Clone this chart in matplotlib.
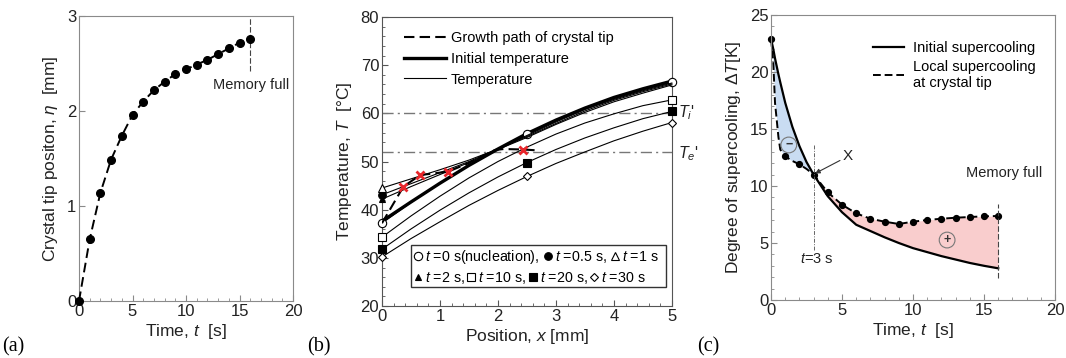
import numpy as np
import matplotlib.pyplot as plt
from matplotlib.ticker import MultipleLocator
from matplotlib.patches import Rectangle
from matplotlib.lines import Line2D

plt.rcParams['font.family'] = ['Liberation Sans', 'DejaVu Sans']
plt.rcParams['mathtext.fontset'] = 'custom'
plt.rcParams['mathtext.it'] = 'Liberation Sans:italic'
plt.rcParams['mathtext.rm'] = 'Liberation Sans'
plt.rcParams['font.size'] = 10.5

# ---- (a) crystal tip position
t_a = [0, 1, 2, 3, 4, 5, 6, 7, 8, 9, 10, 11, 12, 13, 14, 15, 16]
eta = [0, 0.65, 1.14, 1.49, 1.74, 1.96, 2.10, 2.22, 2.31, 2.39, 2.44,
       2.49, 2.54, 2.60, 2.66, 2.72, 2.76]

# ---- (b) temperature profiles
x_b = [0, 0.5, 1, 1.5, 2, 2.5, 3, 3.5, 4, 4.5, 5]
T_init = [37.6, 41.6, 45.5, 49.2, 52.6, 55.8, 58.6, 61.1, 63.3, 65.1, 66.7]
T_t0 = [37.2, 41.5, 45.5, 49.2, 52.6, 55.7, 58.5, 61.0, 63.1, 64.9, 66.5]
T_t05 = [43.1, 45.4, 47.7, 50.0, 52.6, 55.4, 58.2, 60.8, 62.9, 64.7, 66.3]
T_t1 = [44.5, 46.4, 48.3, 50.3, 52.6, 55.2, 57.9, 60.5, 62.7, 64.5, 66.1]
T_t2 = [42.2, 44.8, 47.3, 49.8, 52.5, 55.0, 57.7, 60.2, 62.4, 64.2, 65.9]
T_t10 = [34.3, 38.7, 42.8, 46.6, 50.0, 53.0, 55.7, 58.0, 59.9, 61.6, 62.8]
T_t20 = [31.8, 36.0, 39.9, 43.5, 46.8, 49.8, 52.5, 54.9, 57.0, 58.9, 60.4]
T_t30 = [30.2, 34.0, 37.5, 40.9, 44.0, 46.9, 49.6, 52.0, 54.3, 56.3, 58.1]
tip_x = [0, 0.37, 0.66, 1.14, 1.48, 1.74, 1.95, 2.10, 2.44, 2.70]
tip_T = [37.2, 44.8, 47.2, 47.9, 49.6, 51.2, 52.4, 52.6, 52.5, 52.3]
cross_x = [0.37, 0.66, 1.14, 2.44]
cross_T = [44.8, 47.2, 47.9, 52.5]
T_i = 60
T_e = 52

# ---- (c) degree of supercooling
t_c = [0, 0.16, 0.28, 0.52, 0.65, 1, 1.5, 2, 2.5, 3, 4, 5, 6, 7, 8, 9,
       10, 11, 12, 13, 14, 15, 16]
dT_init = [22.9, 22.0, 21.2, 19.8, 19.1, 17.3, 15.2, 13.5, 12.1, 11.0,
           9.1, 7.7, 6.6, 6.05, 5.5, 5.0, 4.55, 4.2, 3.85, 3.55, 3.25,
           3.0, 2.78]
dT_local = [22.9, 20.8, 17.3, 14.3, 13.2, 12.6, 12.2, 11.9, 11.5, 11.0,
            9.44, 8.36, 7.6, 7.13, 6.87, 6.67, 6.87, 7.02, 7.13, 7.22,
            7.28, 7.34, 7.37]
dot_idx = [0, 5, 7] + list(range(9, 23))

spine_c = '#8a8a8a'
txt_c = '#222222'
TICK_FS = 12
LAB_FS = 12.5

fig = plt.figure(figsize=(10.66, 3.58), dpi=100)
ax1 = fig.add_axes([0.0741, 0.159, 0.2008, 0.796])
ax2 = fig.add_axes([0.3583, 0.145, 0.2720, 0.8075])
ax3 = fig.add_axes([0.7233, 0.162, 0.2664, 0.796])


def style(ax, col):
    for s in ax.spines.values():
        s.set_color(col)
    ax.tick_params(which='both', direction='in', colors=col, labelcolor=txt_c,
                   top=False, right=False, labelsize=TICK_FS, pad=2)
    ax.tick_params(which='major', length=4)
    ax.tick_params(which='minor', length=2)


# (a)
ax1.plot(t_a, eta, color='k', ls=(0, (5, 2.5)), lw=1.4, marker='o', ms=5.5,
         clip_on=False, zorder=3)
ax1.plot([16, 16], [2.42, 2.98], color='#444', ls=(0, (5, 2)), lw=0.8)
ax1.text(16.1, 2.27, 'Memory full', ha='center', va='center', fontsize=10.5,
         color=txt_c)
ax1.set_xlim(0, 20)
ax1.set_ylim(0, 3)
ax1.xaxis.set_major_locator(MultipleLocator(5))
ax1.xaxis.set_minor_locator(MultipleLocator(1))
ax1.yaxis.set_major_locator(MultipleLocator(1))
ax1.set_xlabel('Time, $t$  [s]', color=txt_c, labelpad=2, fontsize=LAB_FS)
ax1.set_ylabel('Crystal tip positon, $\\eta$  [mm]', color=txt_c,
               labelpad=5, fontsize=LAB_FS)
style(ax1, spine_c)

# (b)
ax2.axhline(T_i, color='#777', ls='-.', lw=1.0, dashes=(8, 3, 1.5, 3))
ax2.axhline(T_e, color='#777', ls='-.', lw=1.0, dashes=(8, 3, 1.5, 3))
ax2.plot(x_b, T_init, color='k', lw=2.4, zorder=4)
curves = [
    (T_t0, 'o', 'white', [0, 5, 10], 6),
    (T_t05, 'o', 'k', [0], 5.5),
    (T_t1, '^', 'white', [0], 5.5),
    (T_t2, '^', 'k', [0], 4),
    (T_t10, 's', 'white', [0, 10], 6),
    (T_t20, 's', 'k', [0, 5, 10], 6),
    (T_t30, 'D', 'white', [0, 5, 10], 4.5),
]
for vals, mk, fc, idx, ms in curves:
    ax2.plot(x_b, vals, color='k', lw=0.8, marker=mk, mfc=fc, mec='k',
             mew=0.8, ms=ms, markevery=idx, clip_on=False, zorder=5)
ax2.plot(tip_x, tip_T, color='k', lw=1.5, ls=(0, (5, 2.5)), zorder=6)
ax2.plot(cross_x, cross_T, ls='none', marker='x', color='#e8262b', ms=6,
         mew=2, zorder=7)
ax2.text(5.1, T_i + 0.2, "$T_i$'", ha='left', va='center', fontsize=11.5,
         color=txt_c)
ax2.text(5.1, T_e - 0.4, "$T_e$'", ha='left', va='center', fontsize=11.5,
         color=txt_c)
top_handles = [Line2D([], [], color='k', lw=1.5, ls=(0, (5, 2.5))),
               Line2D([], [], color='k', lw=2.4),
               Line2D([], [], color='k', lw=0.8)]
top_labels = ['Growth path of crystal tip', 'Initial temperature',
              'Temperature']
leg = ax2.legend(top_handles, top_labels, loc='upper left',
                 bbox_to_anchor=(0.075, 0.95), frameon=False,
                 handlelength=2.9, handletextpad=0.35, labelspacing=0.45,
                 borderpad=0, borderaxespad=0)
ax2.add_artist(leg)

mk_handles = []
for vals, mk, fc, idx, ms in curves:
    mk_handles.append(Line2D([], [], ls='none', marker=mk, mfc=fc,
                             mec='k', mew=0.8, ms=ms))
row1 = ['$t$ =0 s(nucleation),', '$t$ =0.5 s,', '$t$ =1 s']
row2 = ['$t$ =2 s,', '$t$ =10 s,', '$t$ =20 s,', '$t$ =30 s']
leg1 = ax2.legend(mk_handles[:3], row1, ncol=3, loc='center left',
                  bbox_to_anchor=(0.108, 0.171), frameon=False, fontsize=10.3,
                  handlelength=0.6, handletextpad=0.2, columnspacing=0.3,
                  borderpad=0, borderaxespad=0)
ax2.add_artist(leg1)
ax2.legend(mk_handles[3:], row2, ncol=4, loc='center left',
           bbox_to_anchor=(0.108, 0.096), frameon=False, fontsize=10.3,
           handlelength=0.6, handletextpad=0.2, columnspacing=0.15,
           borderpad=0, borderaxespad=0)
ax2.add_patch(Rectangle((0.10, 0.066), 0.88, 0.145, transform=ax2.transAxes,
                        fill=False, ec='#333', lw=1.0, zorder=8))
ax2.set_xlim(0, 5)
ax2.set_ylim(20, 80)
ax2.xaxis.set_major_locator(MultipleLocator(1))
ax2.xaxis.set_minor_locator(MultipleLocator(0.2))
ax2.yaxis.set_major_locator(MultipleLocator(10))
ax2.yaxis.set_minor_locator(MultipleLocator(2))
ax2.set_xlabel('Position, $x$ [mm]', color=txt_c, labelpad=2, fontsize=LAB_FS)
ax2.set_ylabel('Temperature, $T$  [°C]', color=txt_c, labelpad=5,
               fontsize=LAB_FS)
style(ax2, '#555555')

# (c)
t_arr = np.array(t_c)
ax3.fill_between(t_c, dT_local, dT_init, where=t_arr <= 3,
                 color='#c9dcf2', lw=0)
ax3.fill_between(t_c, dT_local, dT_init, where=t_arr >= 3,
                 color='#f9cdcd', lw=0)
ax3.plot(t_c, dT_init, color='k', lw=1.6)
ax3.plot(t_c, dT_local, color='k', lw=1.4, ls=(0, (4, 2)), marker='o',
         ms=4.2, markevery=dot_idx, clip_on=False)
ax3.plot([3, 3], [4.4, 13.7], color='#666', lw=0.7, ls=(0, (4, 1.5, 1, 1.5)))
ax3.plot([16, 16], [1.9, 8.4], color='#444', lw=0.8, ls=(0, (5, 2)))
ax3.text(3.2, 3.6, '$t$=3 s', ha='center', va='center', fontsize=10.5,
         color=txt_c)
ax3.text(16.4, 11.1, 'Memory full', ha='center', va='center', fontsize=10.5,
         color=txt_c)
ax3.annotate('X', xy=(3.1, 11.1), xytext=(5.05, 12.6), ha='left', va='center',
             fontsize=11, color=txt_c,
             arrowprops=dict(arrowstyle='-|>', color='#333', lw=0.8,
                             mutation_scale=7, shrinkA=0, shrinkB=0))
ax3.text(1.25, 13.6, '−', ha='center', va='center', fontsize=9,
         fontweight='bold', color='#333',
         bbox=dict(boxstyle='circle,pad=0.15', fc='none', ec='#777', lw=0.8))
ax3.text(12.4, 5.26, '+', ha='center', va='center', fontsize=9,
         fontweight='bold', color='#333',
         bbox=dict(boxstyle='circle,pad=0.15', fc='none', ec='#777', lw=0.8))
c_handles = [Line2D([], [], color='k', lw=1.6),
             Line2D([], [], color='k', lw=1.4, ls=(0, (4, 2)))]
c_labels = ['Initial supercooling', 'Local supercooling\nat crystal tip']
ax3.legend(c_handles, c_labels, loc='upper left',
           bbox_to_anchor=(0.359, 0.91), frameon=False,
           handlelength=2.1, handletextpad=0.65, labelspacing=0.35,
           borderpad=0, borderaxespad=0)
ax3.set_xlim(0, 20)
ax3.set_ylim(0, 25)
ax3.xaxis.set_major_locator(MultipleLocator(5))
ax3.xaxis.set_minor_locator(MultipleLocator(1))
ax3.yaxis.set_major_locator(MultipleLocator(5))
ax3.yaxis.set_minor_locator(MultipleLocator(1))
ax3.set_xlabel('Time, $t$  [s]', color=txt_c, labelpad=2, fontsize=LAB_FS)
ax3.set_ylabel('Degree of supercooling, $\\Delta T$[K]', color=txt_c,
               labelpad=5, fontsize=LAB_FS)
style(ax3, spine_c)

for xx, lab in [(0.002, '(a)'), (0.288, '(b)'), (0.654, '(c)')]:
    fig.text(xx, 0.031, lab, ha='left', va='center', fontsize=14.5,
             family='Liberation Serif', color='k')

fig.savefig('out.png', dpi=100)
